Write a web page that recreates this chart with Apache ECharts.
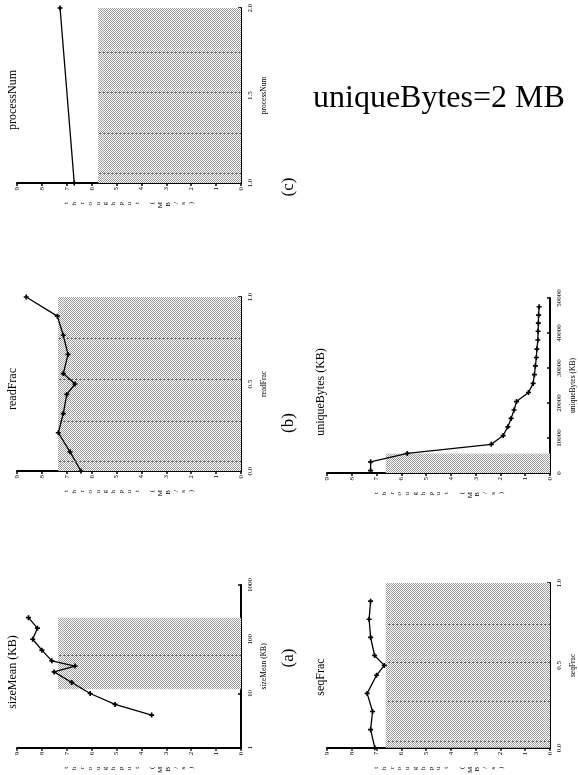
<!DOCTYPE html>
<html>
<head>
<meta charset="utf-8">
<script src="https://cdn.jsdelivr.net/npm/echarts@6/dist/echarts.min.js"></script>
<style>
  html, body { margin: 0; padding: 0; background: #fff; }
  #chart { width: 578px; height: 775px; }
</style>
</head>
<body>
<div id="chart"></div>
<script>
// Throughput (MB/s) while one workload parameter is swept at a time.
const processNumX = [1, 2];
const processNumThroughput = [6.7, 7.27];

const readFracX = [0, 0.11, 0.22, 0.33, 0.44, 0.5, 0.56, 0.67, 0.78, 0.89, 1.0];
const readFracThroughput = [6.43, 6.87, 7.34, 7.14, 7.0, 6.67, 7.14, 6.95, 7.14, 7.38, 8.63];

const sizeMeanX = [4, 6.3, 10, 16, 25, 32, 40, 63, 100, 160, 250];
const sizeMeanThroughput = [3.59, 5.06, 6.06, 6.8, 7.51, 6.67, 7.6, 8.0, 8.37, 8.18, 8.54];

const uniqueBytesX = [660, 3200, 5600, 8200, 10700, 13200, 15600, 18000, 20400, 23000,
  25600, 28100, 30600, 33000, 35400, 38000, 40500, 42800, 45100, 47500];
const uniqueBytesThroughput = [7.24, 7.24, 5.76, 2.37, 1.89, 1.70, 1.57, 1.45, 1.35, 0.87,
  0.68, 0.63, 0.59, 0.55, 0.53, 0.49, 0.48, 0.47, 0.46, 0.44];

const seqFracX = [0, 0.11, 0.22, 0.33, 0.44, 0.5, 0.56, 0.67, 0.78, 0.89];
const seqFracThroughput = [7.07, 7.24, 7.16, 7.38, 7.0, 6.69, 7.08, 7.24, 7.30, 7.24];

// Shaded bands: [throughput upper bound, parameter low, parameter high]
const processNumBand = [5.74, 1, 2];
const readFracBand = [7.35, 0, 1];
const sizeMeanBand = [7.35, 12, 250];
const uniqueBytesBand = [6.63, 0, 5600];
const seqFracBand = [6.63, 0, 1];

// Dotted guides drawn across each band (parameter values)
const processNumGuides = [1.057, 1.286, 1.52, 1.749];
const readFracGuides = [0.057, 0.287, 0.529, 0.764];
const sizeMeanGuides = [51];
const uniqueBytesGuides = [];
const seqFracGuides = [0.04, 0.282, 0.52, 0.747];

// Axis ranges / ticks
const throughputRange = [0, 9, 1];
const processNumRange = [1, 2, 0.5];
const readFracRange = [0, 1, 0.5];
const sizeMeanRange = [1, 1000];
const uniqueBytesRange = [0, 50000, 10000];
const seqFracRange = [0, 1, 0.5];

// Text
const throughputName = 'throughput (MB/s)';
const panelTitles = ['processNum', 'readFrac', 'sizeMean (KB)', 'uniqueBytes (KB)', 'seqFrac'];
const axisNames = ['processNum', 'readFrac', 'sizeMean (KB)', 'uniqueBytes (KB)', 'seqFrac'];
const panelTags = ['(c)', '(b)', '(a)'];
const noteText = 'uniqueBytes=2 MB';

const SERIF = '"Liberation Serif", "Times New Roman", serif';

// checkerboard fill used for the shaded bands
const patternCanvas = document.createElement('canvas');
patternCanvas.width = 2; patternCanvas.height = 2;
const pc = patternCanvas.getContext('2d');
pc.fillStyle = '#ffffff'; pc.fillRect(0, 0, 2, 2);
pc.fillStyle = '#9c9c9c'; pc.fillRect(0, 0, 1, 1); pc.fillRect(1, 1, 1, 1);
const bandFill = { image: patternCanvas, repeat: 'repeat' };

// stacked (one letter per line) throughput label
const stackedName = throughputName.split('').map(ch => ch === ' ' ? '' : ch).join('\n');

const plusSymbol = 'path://M2,0H4V2H6V4H4V6H2V4H0V2H2Z';

const panels = [
  { grid: { left: 17, top: 8, width: 224, height: 175 }, x: processNumX, y: processNumThroughput,
    band: processNumBand, guides: processNumGuides, range: processNumRange, type: 'value', fixed: 1 },
  { grid: { left: 17, top: 297, width: 224, height: 174 }, x: readFracX, y: readFracThroughput,
    band: readFracBand, guides: readFracGuides, range: readFracRange, type: 'value', fixed: 1 },
  { grid: { left: 17, top: 585, width: 224, height: 175 }, x: sizeMeanX, y: sizeMeanThroughput,
    band: sizeMeanBand, guides: sizeMeanGuides, range: sizeMeanRange, type: 'log', fixed: 0 },
  { grid: { left: 327, top: 298, width: 224, height: 175 }, x: uniqueBytesX, y: uniqueBytesThroughput,
    band: uniqueBytesBand, guides: uniqueBytesGuides, range: uniqueBytesRange, type: 'value', fixed: 0 },
  { grid: { left: 327, top: 583, width: 224, height: 174 }, x: seqFracX, y: seqFracThroughput,
    band: seqFracBand, guides: seqFracGuides, range: seqFracRange, type: 'value', fixed: 1 }
];

const grids = [], xAxes = [], yAxes = [], series = [];

panels.forEach((p, i) => {
  grids.push(Object.assign({ containLabel: false }, p.grid));

  xAxes.push({
    gridIndex: i, type: 'value', position: 'bottom', inverse: true,
    min: throughputRange[0], max: throughputRange[1], interval: throughputRange[2],
    axisLine: { show: true, onZero: false, lineStyle: { color: '#000', width: 2 } },
    axisTick: { show: true, length: 3, lineStyle: { color: '#000', width: 1.5 } },
    splitLine: { show: false },
    axisLabel: { rotate: 90, fontSize: 7, fontFamily: SERIF, color: '#000', margin: 4 },
    name: stackedName, nameLocation: 'middle', nameRotate: 90, nameGap: 19,
    nameTextStyle: { fontSize: 7, lineHeight: 7.8, fontFamily: SERIF, color: '#000' }
  });

  const yAxis = {
    gridIndex: i, type: p.type, position: 'right',
    axisLine: { show: true, onZero: false, lineStyle: { color: '#000', width: 2 } },
    axisTick: { show: true, inside: true, length: 3, lineStyle: { color: '#000', width: 1.5 } },
    minorTick: { show: false },
    splitLine: { show: false },
    axisLabel: {
      rotate: 90, fontSize: 7, fontFamily: SERIF, color: '#000', margin: 6,
      showMinLabel: true, showMaxLabel: true,
      formatter: v => p.fixed ? Number(v).toFixed(p.fixed) : String(v)
    },
    name: axisNames[i], nameLocation: 'middle', nameRotate: 90, nameGap: 19,
    nameTextStyle: { fontSize: 7.5, fontFamily: SERIF, color: '#000' }
  };
  if (p.type === 'log') {
    yAxis.min = p.range[0]; yAxis.max = p.range[1]; yAxis.logBase = 10;
  } else {
    yAxis.min = p.range[0]; yAxis.max = p.range[1]; yAxis.interval = p.range[2];
  }
  yAxes.push(yAxis);

  // shaded band with its dotted guides
  series.push({
    type: 'line', xAxisIndex: i, yAxisIndex: i, data: [], silent: true, z: 1,
    markArea: {
      silent: true,
      itemStyle: { color: bandFill, borderWidth: 0 },
      data: [[{ coord: [0, p.band[1]] }, { coord: [p.band[0], p.band[2]] }]]
    },
    markLine: {
      silent: true, symbol: 'none', animation: false,
      label: { show: false },
      lineStyle: { color: '#5a5a5a', width: 1, type: [2, 2] },
      data: p.guides.map(g => [{ coord: [0, g] }, { coord: [p.band[0], g] }])
    }
  });

  // measured throughput curve
  series.push({
    type: 'line', xAxisIndex: i, yAxisIndex: i, z: 3,
    data: p.x.map((xv, k) => [p.y[k], xv]),
    symbol: plusSymbol, symbolSize: 5, showSymbol: true,
    itemStyle: { color: '#000' },
    lineStyle: { color: '#000', width: 1.3 }
  });
});

function vText(text, x, y, size) {
  return {
    type: 'text', x: x, y: y, rotation: Math.PI / 2, silent: true,
    style: { text: text, font: size + 'px ' + SERIF, fill: '#000',
      align: 'center', verticalAlign: 'middle', textAlign: 'center', textVerticalAlign: 'middle' }
  };
}

const titlePos = [[13, 100], [13, 389], [13, 672], [321, 392], [321, 677]];
const tagPos = [[289, 187], [289, 423], [289, 658]];

const graphics = [];
panelTitles.forEach((t, i) => graphics.push(vText(t, titlePos[i][0], titlePos[i][1], 12)));
panelTags.forEach((t, i) => graphics.push(vText(t, tagPos[i][0], tagPos[i][1], 17)));
graphics.push({
  type: 'text', x: 313, y: 99, silent: true,
  style: { text: noteText, font: '32px ' + SERIF, fill: '#000',
    align: 'left', verticalAlign: 'middle', textAlign: 'left', textVerticalAlign: 'middle' }
});

const chart = echarts.init(document.getElementById('chart'), null, { renderer: 'canvas' });
chart.setOption({
  backgroundColor: '#fff',
  animation: false,
  grid: grids,
  xAxis: xAxes,
  yAxis: yAxes,
  series: series,
  graphic: graphics
});
</script>
</body>
</html>
